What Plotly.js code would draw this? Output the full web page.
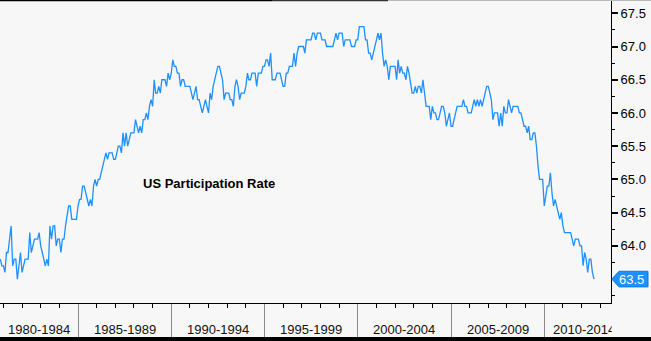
<!DOCTYPE html>
<html><head><meta charset="utf-8">
<script src="https://cdn.plot.ly/plotly-3.0.1.min.js"></script>
<style>html,body{margin:0;padding:0;background:#f7f7f7;overflow:hidden}#chart{width:651px;height:341px}</style>
</head><body><div id="chart"></div>
<script>
// ---- data ----
const firstMonth = [1980, 11];   // first monthly observation
const rate1980s = [
 63.8,63.7,63.7,63.6,63.9,63.9,64.1,64.3,63.7,63.8,
 63.8,63.5,63.7,63.9,63.6,63.7,63.8,63.8,63.8,64.2,
 63.9,64.0,64.1,64.1,64.1,64.2,64.0,63.9,63.8,63.7,
 63.8,63.7,64.3,64.1,64.3,64.3,64.0,64.1,64.1,63.9,
 64.1,64.1,64.3,64.5,64.6,64.6,64.4,64.4,64.4,64.4,
 64.6,64.7,64.7,64.9,64.9,64.8,64.7,64.6,64.7,64.6,
 64.9,65.0,64.9,65.0,65.0,65.1,65.2,65.3,65.4,65.3,
 65.4,65.4,65.4,65.3,65.3,65.4,65.5,65.5,65.4,65.7,
 65.5,65.7,65.5,65.6,65.7,65.7,65.7,65.9,65.8,65.7,
 65.8,65.7,65.9,65.9,66.0,65.9,66.1,66.2,66.1,66.5,
 66.3,66.3,66.4,66.3,66.5,66.5,66.5,66.4,66.6,66.5
];
const rate1990s = [
 66.6,66.8,66.7,66.7,66.6,66.6,66.4,66.5,66.5,66.4,
 66.4,66.4,66.4,66.3,66.2,66.3,66.4,66.2,66.2,66.1,
 66.0,66.1,66.2,66.1,66.0,66.3,66.2,66.4,66.5,66.6,
 66.7,66.7,66.6,66.5,66.2,66.3,66.3,66.3,66.2,66.2,
 66.1,66.4,66.5,66.4,66.2,66.3,66.3,66.3,66.4,66.6,
 66.5,66.5,66.6,66.6,66.6,66.4,66.6,66.6,66.6,66.7,
 66.7,66.8,66.8,66.7,66.9,66.5,66.5,66.5,66.6,66.6,
 66.6,66.5,66.4,66.4,66.6,66.6,66.7,66.7,66.7,66.9,
 66.7,66.9,67.0,67.0,67.0,67.0,66.9,67.1,67.1,67.1,
 67.1,67.2,67.2,67.1,67.2,67.2,67.2,67.1,67.1,67.1,
 67.0,67.0,67.0,67.0,67.0,67.1,67.2,67.1,67.2,67.2,
 67.2,67.0,67.1,67.1,67.1,67.1,67.0,67.0,67.0,67.1
];
const rate2000s = [
 67.1,67.3,67.3,67.3,67.3,67.1,67.1,66.9,66.9,66.8,
 66.9,67.0,67.1,67.2,67.1,67.2,66.9,66.7,66.8,66.7,
 66.5,66.7,66.7,66.7,66.7,66.5,66.8,66.6,66.7,66.6,
 66.6,66.5,66.7,66.6,66.4,66.3,66.3,66.4,66.3,66.4,
 66.4,66.3,66.5,66.3,66.1,66.1,66.1,65.9,66.1,66.0,
 66.0,65.9,65.9,66.0,66.1,66.1,66.0,65.8,65.9,66.0,
 65.8,65.8,65.9,66.0,66.1,66.1,66.1,66.1,66.2,66.1,
 66.1,66.0,66.0,66.0,66.1,66.2,66.1,66.2,66.1,66.2,
 66.1,66.2,66.3,66.4,66.4,66.3,66.2,65.9,66.0,66.0,
 66.0,65.8,66.0,65.8,66.1,66.0,66.0,66.2,66.1,66.0,
 66.1,66.1,66.1,66.1,66.0,66.0,65.9,65.8,65.8,65.7,
 65.8,65.6,65.6,65.7,65.7,65.5,65.2,65.0,65.0,65.0
];
const rate2010s = [
 64.6,64.8,64.9,64.9,65.1,64.8,64.6,64.7,64.6,64.5,
 64.4,64.5,64.3,64.2,64.2,64.2,64.2,64.2,64.1,64.0,
 64.1,64.1,64.1,64.0,64.0,63.7,63.9,63.8,63.6,63.8,
 63.8,63.6,63.5
];
const periodLabels = ['1980-1984','1985-1989','1990-1994','1995-1999','2000-2004','2005-2009','2010-2014'];
const periodStarts = ['1980-01-01','1985-01-01','1990-01-01','1995-01-01','2000-01-01','2005-01-01','2010-01-01','2015-01-01'];
const yTickVals = [64.0,64.5,65.0,65.5,66.0,66.5,67.0,67.5];
const chartTitle = 'US Participation Rate';

// ---- build ----
const rates = [].concat(rate1980s, rate1990s, rate2000s, rate2010s);
const dates = rates.map((_, i) => {
  const m = firstMonth[1] - 1 + i;
  const y = firstMonth[0] + Math.floor(m / 12);
  return y + '-' + String(m % 12 + 1).padStart(2, '0') + '-01';
});

const W = 651, H = 341, M = {l:0, r:40, t:0, b:38};
const PW = W - M.l - M.r, PH = H - M.t - M.b;
const xRange = ['1980-10-26', '2013-07-31'];
const yRange = [63.14, 67.70];
const t0 = Date.parse(xRange[0]), t1 = Date.parse(xRange[1]);
const toPx = d => (Date.parse(d) - t0) / (t1 - t0) * PW;

const FONT = 'Liberation Sans, Arial, sans-serif';
const annotations = [];
for (let i = 0; i < periodLabels.length; i++) {
  const a = Math.max(0, toPx(periodStarts[i]));
  const b = Math.min(PW, toPx(periodStarts[i + 1]));
  const fits = (b - a) > 70;
  const ann = {
    text: periodLabels[i], xref: 'paper', yref: 'paper', showarrow: false,
    y: -(329.5 - PH) / PH, yanchor: 'middle',
    font: {family: FONT, size: 13, color: '#111'}, borderpad: 0
  };
  if (fits) { ann.x = (a + b) / 2 / PW; ann.xanchor = 'center'; }
  else { const left = a + 8; ann.x = left / PW; ann.xanchor = 'left'; ann.width = PW - left; ann.align = 'left'; }
  annotations.push(ann);
}
annotations.push({
  text: '<b>' + chartTitle + '</b>', xref: 'paper', yref: 'paper', x: 209 / PW, y: (PH - 183) / PH,
  showarrow: false, font: {family: FONT, size: 13, color: '#000'}
});
const last = rates[rates.length - 1];
annotations.push({
  text: last.toFixed(1), xref: 'paper', yref: 'y', x: 1 + 21 / PW, y: last, xanchor: 'center', yanchor: 'middle',
  showarrow: false, font: {family: FONT, size: 13, color: '#ffffff'}
});

const yp = v => (v - yRange[0]) / (yRange[1] - yRange[0]);
const hp = 7.8 / PH;
const cy = yp(last);
const X = px => 1 + px / PW;
const calloutPath = `M ${X(0.8)},${cy} L ${X(8)},${cy + hp} L ${X(37)},${cy + hp} L ${X(37)},${cy - hp} L ${X(8)},${cy - hp} Z`;

const shapes = [
  {type: 'path', xref: 'paper', yref: 'paper', path: calloutPath, fillcolor: '#1e90ff', line: {color: '#1577d6', width: 1}, layer: 'above'},
  {type: 'rect', xref: 'paper', yref: 'paper', x0: -0.01, x1: W / PW + 0.01, y0: -(337 - PH) / PH, y1: -(345 - PH) / PH, fillcolor: '#000', line: {width: 0}},
  {type: 'line', xref: 'paper', yref: 'paper', x0: 0, x1: 272 / PW, y0: 1 - 0.5 / PH, y1: 1 - 0.5 / PH, line: {color: '#000', width: 1.5}},
  {type: 'line', xref: 'paper', yref: 'paper', x0: 272 / PW, x1: 388 / PW, y0: 1 - 0.5 / PH, y1: 1 - 0.5 / PH, line: {color: '#333', width: 1.5}},
  {type: 'line', xref: 'paper', yref: 'paper', x0: 388 / PW, x1: W / PW, y0: 1 - 0.5 / PH, y1: 1 - 0.5 / PH, line: {color: '#bbb', width: 1}}
];

const trace = {x: dates, y: rates, type: 'scatter', mode: 'lines', line: {color: '#1e90ff', width: 1.3}, hoverinfo: 'skip'};

const layout = {
  width: W, height: H, margin: M, paper_bgcolor: '#f7f7f7', plot_bgcolor: '#f7f7f7', showlegend: false,
  xaxis: {
    type: 'date', range: xRange, tickmode: 'array', tickvals: periodStarts.slice(1, -1),
    ticks: 'outside', ticklen: 33, tickwidth: 1, tickcolor: '#8a8a8a', showticklabels: false,
    showline: true, linecolor: '#000', linewidth: 1, showgrid: false, zeroline: false,
    minor: {tickmode: 'linear', tick0: '1981-01-01', dtick: 'M12', ticks: 'outside', ticklen: 4, tickwidth: 1, tickcolor: '#000', showgrid: false}
  },
  yaxis: {
    side: 'right', range: yRange, tickmode: 'array', tickvals: yTickVals, tickformat: '.1f',
    ticks: 'outside', ticklen: 6, tickwidth: 2, tickcolor: '#000',
    showline: true, linecolor: '#000', linewidth: 1, showgrid: false, zeroline: false,
    tickfont: {family: FONT, size: 13, color: '#000'},
    minor: {tickmode: 'linear', tick0: 63.25, dtick: 0.5, ticks: 'outside', ticklen: 3, tickwidth: 1, tickcolor: '#000', showgrid: false}
  },
  annotations: annotations, shapes: shapes
};
Plotly.newPlot('chart', [trace], layout, {displayModeBar: false, staticPlot: true});
</script>
</body></html>
